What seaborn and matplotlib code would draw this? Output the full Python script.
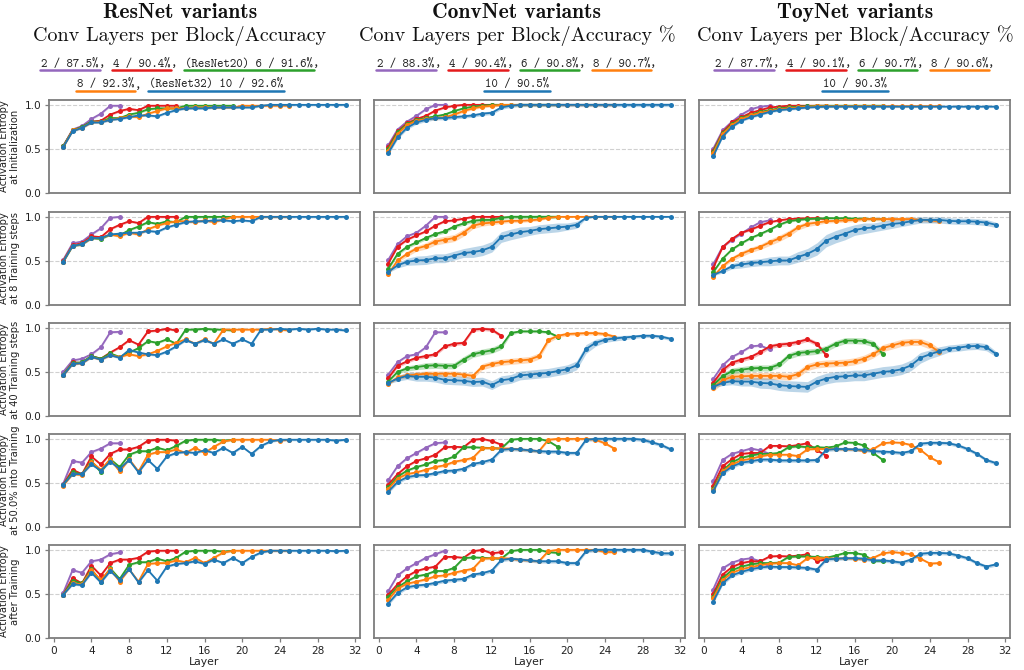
import numpy as np
import pandas as pd
import matplotlib
matplotlib.use("Agg")
import matplotlib.pyplot as plt
import seaborn as sns
from matplotlib.lines import Line2D
from matplotlib.transforms import IdentityTransform

# ---------------- data ----------------
VARIANTS = [2, 4, 6, 8, 10]
COLORS = {2: "#9467bd", 4: "#e41a1c", 6: "#2ca02c", 8: "#ff7f0e", 10: "#1f77b4"}
STAGE_LABELS = ["Activation Entropy\nat Initialization",
                "Activation Entropy\nat 8 Training steps",
                "Activation Entropy\nat 40 Training steps",
                "Activation Entropy\nat 50.0% into Training",
                "Activation Entropy\nafter Training"]
ARCH_TITLES = ["ResNet variants", "ConvNet variants", "ToyNet variants"]
ARCH_SUBTITLES = ["Conv Layers per Block/Accuracy",
                  "Conv Layers per Block/Accuracy %",
                  "Conv Layers per Block/Accuracy %"]
RES_ACC = [87.5, 90.4, 91.6, 92.3, 92.6]
RES_PREFIX = ["", "", "(ResNet20) ", "", "(ResNet32) "]
CONV_ACC = [88.3, 90.4, 90.8, 90.7, 90.5]
TOY_ACC = [87.7, 90.1, 90.7, 90.6, 90.3]
X_TICKS = [0, 4, 8, 12, 16, 20, 24, 28, 32]
Y_TICKS = [0.0, 0.5, 1.0]

res_init = {
    2: [0.53, 0.72, 0.76, 0.84, 0.90, 0.99, 0.99],
    4: [0.53, 0.71, 0.75, 0.81, 0.82, 0.89, 0.93, 0.955, 0.94, 0.99, 0.99, 0.99, 0.99],
    6: [0.53, 0.71, 0.75, 0.81, 0.81, 0.85, 0.85, 0.89, 0.91, 0.95, 0.96, 0.96, 0.96, 0.99, 0.99, 0.99, 0.99, 0.99, 0.99],
    8: [0.52, 0.71, 0.74, 0.80, 0.81, 0.83, 0.85, 0.87, 0.86, 0.90, 0.93, 0.96, 0.96, 0.96, 0.97, 0.97, 0.97, 0.97, 0.97,
        0.99, 0.99, 0.99, 0.99, 0.99, 0.99],
    10: [0.52, 0.70, 0.74, 0.80, 0.80, 0.83, 0.84, 0.86, 0.88, 0.88, 0.87, 0.91, 0.94, 0.96, 0.96, 0.96, 0.97, 0.97, 0.97,
         0.97, 0.97, 0.99, 1.0, 1.0, 1.0, 1.0, 1.0, 1.0, 1.0, 1.0, 1.0],
}
res_8 = {
    2: [0.51, 0.70, 0.72, 0.80, 0.87, 0.99, 1.0],
    4: [0.50, 0.68, 0.70, 0.78, 0.77, 0.86, 0.91, 0.95, 0.93, 1.0, 1.0, 1.0, 1.0],
    6: [0.49, 0.67, 0.69, 0.76, 0.75, 0.80, 0.79, 0.85, 0.89, 0.94, 0.92, 0.95, 0.94, 1.0, 1.0, 1.0, 1.0, 1.0, 1.0],
    8: [0.49, 0.67, 0.69, 0.76, 0.76, 0.80, 0.78, 0.82, 0.80, 0.86, 0.90, 0.93, 0.95, 0.95, 0.94, 0.96, 0.94, 0.97,
        1.0, 1.0, 1.0, 1.0, 1.0, 1.0, 1.0],
    10: [0.49, 0.67, 0.69, 0.76, 0.76, 0.80, 0.81, 0.82, 0.82, 0.84, 0.83, 0.88, 0.91, 0.94, 0.95, 0.95, 0.96, 0.96,
         0.95, 0.96, 0.95, 1.0, 1.0, 1.0, 1.0, 1.0, 1.0, 1.0, 1.0, 1.0, 1.0],
}
res_40 = {
    2: [0.50, 0.63, 0.65, 0.70, 0.78, 0.95, 0.955],
    4: [0.46, 0.61, 0.60, 0.68, 0.65, 0.72, 0.78, 0.86, 0.81, 0.96, 0.97, 0.99, 0.97],
    6: [0.47, 0.60, 0.61, 0.68, 0.65, 0.71, 0.67, 0.72, 0.77, 0.85, 0.83, 0.87, 0.82, 0.98, 0.98, 0.99, 0.98, 0.98, 0.97],
    8: [0.46, 0.59, 0.60, 0.67, 0.64, 0.69, 0.67, 0.70, 0.68, 0.70, 0.74, 0.79, 0.83, 0.87, 0.82, 0.87, 0.82, 0.98,
        0.98, 0.98, 0.98, 0.98, 0.99, 0.98, 0.97],
    10: [0.46, 0.59, 0.60, 0.67, 0.64, 0.69, 0.66, 0.75, 0.72, 0.70, 0.69, 0.73, 0.79, 0.86, 0.82, 0.86, 0.82, 0.87,
         0.82, 0.87, 0.82, 0.98, 0.98, 0.99, 0.98, 0.99, 0.98, 0.99, 0.98, 0.98, 0.97],
}
res_50 = {
    2: [0.49, 0.75, 0.73, 0.85, 0.89, 0.95, 0.95],
    4: [0.48, 0.65, 0.60, 0.80, 0.71, 0.83, 0.88, 0.88, 0.91, 0.98, 0.99, 0.99, 0.98],
    6: [0.48, 0.62, 0.60, 0.75, 0.62, 0.77, 0.68, 0.82, 0.86, 0.86, 0.90, 0.87, 0.92, 0.98, 0.99, 0.99, 0.99, 0.98, 0.99],
    8: [0.47, 0.60, 0.59, 0.74, 0.65, 0.77, 0.63, 0.77, 0.63, 0.82, 0.85, 0.85, 0.88, 0.84, 0.90, 0.84, 0.91, 0.97,
        0.99, 0.99, 0.99, 0.99, 0.99, 0.98, 0.99],
    10: [0.48, 0.60, 0.60, 0.71, 0.64, 0.74, 0.66, 0.76, 0.62, 0.76, 0.66, 0.80, 0.84, 0.85, 0.84, 0.87, 0.84, 0.90,
         0.84, 0.91, 0.83, 0.92, 0.97, 0.99, 0.99, 0.99, 0.99, 0.99, 0.99, 0.98, 0.99],
}
res_after = {
    2: [0.51, 0.77, 0.74, 0.87, 0.89, 0.95, 0.97],
    4: [0.49, 0.68, 0.62, 0.82, 0.71, 0.85, 0.89, 0.89, 0.91, 0.98, 0.99, 0.99, 0.99],
    6: [0.49, 0.65, 0.62, 0.78, 0.64, 0.79, 0.67, 0.83, 0.86, 0.86, 0.90, 0.87, 0.91, 0.98, 0.99, 0.99, 0.99, 0.98, 0.99],
    8: [0.49, 0.62, 0.61, 0.77, 0.66, 0.78, 0.64, 0.78, 0.64, 0.84, 0.85, 0.85, 0.88, 0.86, 0.91, 0.85, 0.91, 0.97,
        0.99, 0.99, 0.99, 0.99, 0.99, 0.99, 0.99],
    10: [0.49, 0.61, 0.60, 0.74, 0.63, 0.76, 0.66, 0.78, 0.63, 0.77, 0.65, 0.81, 0.84, 0.85, 0.87, 0.84, 0.89, 0.85,
         0.91, 0.85, 0.92, 0.97, 0.99, 0.99, 0.99, 0.99, 0.99, 0.99, 0.99, 0.985, 0.99],
}

conv_init = {
    2: [0.54, 0.72, 0.81, 0.875, 0.95, 1.0, 1.0],
    4: [0.52, 0.70, 0.79, 0.84, 0.875, 0.935, 0.97, 0.99, 1.0, 1.0, 1.0, 1.0, 1.0],
    6: [0.50, 0.69, 0.78, 0.83, 0.85, 0.87, 0.89, 0.93, 0.96, 0.98, 0.99, 1.0, 1.0, 1.0, 1.0, 1.0, 1.0, 1.0, 1.0],
    8: [0.48, 0.67, 0.77, 0.82, 0.84, 0.85, 0.86, 0.89, 0.93, 0.96, 0.98, 0.99, 1.0, 1.0, 1.0, 1.0, 1.0, 1.0, 1.0,
        1.0, 1.0, 1.0, 1.0, 1.0, 1.0],
    10: [0.45, 0.63, 0.74, 0.80, 0.83, 0.85, 0.85, 0.86, 0.87, 0.88, 0.90, 0.91, 0.97, 0.99, 1.0, 1.0, 1.0, 1.0, 1.0,
         1.0, 1.0, 1.0, 1.0, 1.0, 1.0, 1.0, 1.0, 1.0, 1.0, 1.0, 1.0],
}
conv_8 = {
    2: [0.51, 0.69, 0.78, 0.82, 0.90, 1.0, 1.0],
    4: [0.47, 0.66, 0.74, 0.79, 0.835, 0.90, 0.95, 0.96, 0.98, 1.0, 1.0, 1.0, 1.0],
    6: [0.41, 0.58, 0.66, 0.71, 0.76, 0.805, 0.835, 0.89, 0.925, 0.955, 0.965, 0.965, 0.99, 1.0, 1.0, 1.0, 1.0, 1.0, 1.0],
    8: [0.35, 0.505, 0.58, 0.64, 0.67, 0.72, 0.74, 0.76, 0.82, 0.90, 0.925, 0.935, 0.945, 0.955, 0.955, 0.96, 0.97,
        0.99, 1.0, 1.0, 1.0, 1.0, 1.0, 1.0, 1.0],
    10: [0.375, 0.45, 0.49, 0.505, 0.51, 0.53, 0.53, 0.56, 0.59, 0.60, 0.62, 0.66, 0.77, 0.80, 0.825, 0.84, 0.86,
         0.87, 0.88, 0.89, 0.91, 0.99, 1.0, 1.0, 1.0, 1.0, 1.0, 1.0, 1.0, 1.0, 1.0],
}
conv_40 = {
    2: [0.47, 0.61, 0.68, 0.70, 0.78, 0.95, 0.95],
    4: [0.43, 0.57, 0.62, 0.66, 0.68, 0.70, 0.79, 0.82, 0.83, 0.98, 0.99, 0.98, 0.91],
    6: [0.39, 0.50, 0.54, 0.555, 0.57, 0.575, 0.57, 0.57, 0.64, 0.70, 0.725, 0.745, 0.79, 0.94, 0.96, 0.96, 0.96,
        0.95, 0.90],
    8: [0.36, 0.44, 0.46, 0.47, 0.48, 0.48, 0.48, 0.48, 0.47, 0.455, 0.56, 0.59, 0.61, 0.62, 0.63, 0.64, 0.68, 0.86,
        0.91, 0.93, 0.935, 0.94, 0.94, 0.93, 0.90],
    10: [0.375, 0.425, 0.455, 0.445, 0.445, 0.435, 0.41, 0.405, 0.40, 0.385, 0.39, 0.35, 0.405, 0.42, 0.46, 0.47,
         0.48, 0.49, 0.51, 0.53, 0.575, 0.76, 0.83, 0.865, 0.88, 0.89, 0.90, 0.91, 0.91, 0.90, 0.875],
}
conv_50 = {
    2: [0.53, 0.69, 0.78, 0.84, 0.90, 0.95, 0.96],
    4: [0.48, 0.60, 0.69, 0.75, 0.78, 0.82, 0.905, 0.91, 0.905, 0.99, 1.0, 0.975, 0.935],
    6: [0.45, 0.57, 0.64, 0.68, 0.71, 0.75, 0.76, 0.80, 0.905, 0.905, 0.90, 0.895, 0.89, 0.99, 1.0, 1.0, 1.0, 0.975,
        0.91],
    8: [0.43, 0.55, 0.60, 0.62, 0.65, 0.68, 0.70, 0.74, 0.76, 0.785, 0.895, 0.895, 0.89, 0.89, 0.88, 0.87, 0.86, 0.99,
        1.0, 1.0, 1.0, 1.0, 0.99, 0.95, 0.89],
    10: [0.40, 0.51, 0.565, 0.585, 0.59, 0.61, 0.635, 0.64, 0.66, 0.715, 0.735, 0.765, 0.875, 0.885, 0.88, 0.87, 0.86,
         0.855, 0.855, 0.84, 0.84, 0.99, 1.0, 1.0, 1.0, 1.0, 1.0, 0.99, 0.96, 0.93, 0.88],
}
conv_after = {
    2: [0.53, 0.71, 0.79, 0.85, 0.91, 0.95, 0.99],
    4: [0.49, 0.61, 0.70, 0.76, 0.79, 0.81, 0.92, 0.92, 0.91, 0.985, 1.0, 0.96, 0.975],
    6: [0.47, 0.575, 0.645, 0.70, 0.72, 0.76, 0.76, 0.795, 0.905, 0.915, 0.91, 0.905, 0.90, 0.985, 1.0, 1.0, 1.0,
        0.975, 0.965],
    8: [0.43, 0.56, 0.615, 0.64, 0.665, 0.70, 0.71, 0.74, 0.765, 0.785, 0.90, 0.905, 0.905, 0.90, 0.885, 0.88, 0.87,
        0.985, 1.0, 1.0, 1.0, 1.0, 1.0, 0.975, 0.975],
    10: [0.39, 0.51, 0.575, 0.595, 0.605, 0.625, 0.65, 0.66, 0.67, 0.72, 0.735, 0.765, 0.885, 0.90, 0.89, 0.88, 0.87,
         0.87, 0.87, 0.85, 0.85, 0.985, 1.0, 1.0, 1.0, 1.0, 1.0, 1.0, 0.98, 0.96, 0.96],
}

toy_init = {
    2: [0.50, 0.71, 0.81, 0.89, 0.95, 0.98, 0.99],
    4: [0.48, 0.69, 0.80, 0.86, 0.91, 0.94, 0.97, 0.98, 0.99, 0.99, 0.99, 0.99, 0.99],
    6: [0.47, 0.68, 0.78, 0.85, 0.89, 0.92, 0.94, 0.96, 0.97, 0.98, 0.985, 0.99, 0.99, 0.99, 0.99, 0.99, 0.99, 0.99,
        0.99],
    8: [0.45, 0.67, 0.77, 0.84, 0.88, 0.91, 0.93, 0.95, 0.96, 0.97, 0.98, 0.985, 0.985, 0.985, 0.985, 0.985, 0.985,
        0.985, 0.985, 0.985, 0.985, 0.985, 0.985, 0.985, 0.985],
    10: [0.415, 0.64, 0.75, 0.82, 0.86, 0.89, 0.92, 0.94, 0.95, 0.96, 0.97, 0.975, 0.98, 0.98, 0.98, 0.98, 0.98, 0.98,
         0.98, 0.98, 0.98, 0.98, 0.98, 0.98, 0.98, 0.98, 0.98, 0.98, 0.98, 0.98, 0.98],
}
toy_8 = {
    2: [0.46, 0.66, 0.74, 0.81, 0.88, 0.94, 0.96],
    4: [0.42, 0.655, 0.75, 0.82, 0.855, 0.90, 0.94, 0.96, 0.975, 0.98, 0.985, 0.985, 0.975],
    6: [0.37, 0.525, 0.63, 0.70, 0.76, 0.805, 0.855, 0.91, 0.95, 0.965, 0.975, 0.98, 0.985, 0.985, 0.985, 0.98, 0.98,
        0.975, 0.975],
    8: [0.32, 0.44, 0.525, 0.58, 0.625, 0.66, 0.71, 0.755, 0.81, 0.88, 0.92, 0.935, 0.95, 0.955, 0.96, 0.965, 0.975,
        0.975, 0.975, 0.975, 0.975, 0.975, 0.965, 0.96, 0.95],
    10: [0.34, 0.385, 0.44, 0.46, 0.475, 0.485, 0.495, 0.505, 0.505, 0.545, 0.58, 0.635, 0.73, 0.775, 0.81, 0.85, 0.87,
         0.88, 0.90, 0.92, 0.93, 0.95, 0.965, 0.965, 0.965, 0.955, 0.95, 0.95, 0.945, 0.935, 0.91],
}
toy_40 = {
    2: [0.42, 0.575, 0.67, 0.725, 0.79, 0.80, 0.755],
    4: [0.375, 0.52, 0.605, 0.64, 0.67, 0.725, 0.79, 0.81, 0.82, 0.84, 0.87, 0.82, 0.69],
    6: [0.35, 0.45, 0.51, 0.525, 0.54, 0.545, 0.545, 0.585, 0.68, 0.715, 0.725, 0.735, 0.765, 0.82, 0.855, 0.855, 0.85,
        0.82, 0.705],
    8: [0.32, 0.405, 0.445, 0.45, 0.455, 0.455, 0.455, 0.455, 0.445, 0.475, 0.555, 0.585, 0.595, 0.60, 0.605, 0.62,
        0.65, 0.70, 0.77, 0.80, 0.83, 0.84, 0.84, 0.80, 0.725],
    10: [0.33, 0.375, 0.395, 0.39, 0.39, 0.375, 0.37, 0.35, 0.34, 0.335, 0.33, 0.39, 0.425, 0.445, 0.45, 0.46, 0.46,
         0.48, 0.50, 0.51, 0.53, 0.575, 0.66, 0.70, 0.735, 0.765, 0.775, 0.79, 0.795, 0.78, 0.705],
}
toy_50 = {
    2: [0.52, 0.76, 0.83, 0.86, 0.89, 0.87, 0.83],
    4: [0.47, 0.69, 0.77, 0.83, 0.84, 0.84, 0.92, 0.92, 0.915, 0.93, 0.95, 0.87, 0.81],
    6: [0.435, 0.64, 0.735, 0.785, 0.81, 0.83, 0.83, 0.84, 0.905, 0.915, 0.905, 0.905, 0.90, 0.915, 0.96, 0.955, 0.925,
        0.84, 0.76],
    8: [0.415, 0.63, 0.71, 0.755, 0.775, 0.80, 0.82, 0.82, 0.82, 0.805, 0.88, 0.885, 0.885, 0.885, 0.88, 0.88, 0.86,
        0.885, 0.95, 0.96, 0.955, 0.93, 0.875, 0.79, 0.735],
    10: [0.405, 0.61, 0.685, 0.73, 0.745, 0.765, 0.765, 0.755, 0.755, 0.755, 0.755, 0.76, 0.875, 0.885, 0.885, 0.88,
         0.875, 0.86, 0.855, 0.85, 0.84, 0.86, 0.945, 0.955, 0.955, 0.95, 0.925, 0.885, 0.83, 0.76, 0.725],
}
toy_after = {
    2: [0.55, 0.79, 0.855, 0.89, 0.905, 0.87, 0.81],
    4: [0.50, 0.72, 0.805, 0.85, 0.87, 0.87, 0.925, 0.93, 0.925, 0.935, 0.95, 0.875, 0.89],
    6: [0.47, 0.68, 0.77, 0.81, 0.835, 0.85, 0.85, 0.855, 0.92, 0.925, 0.925, 0.92, 0.91, 0.935, 0.965, 0.965, 0.945,
        0.875, 0.875],
    8: [0.45, 0.655, 0.74, 0.78, 0.805, 0.825, 0.845, 0.85, 0.85, 0.825, 0.905, 0.91, 0.905, 0.90, 0.905, 0.90, 0.89,
        0.91, 0.96, 0.975, 0.965, 0.95, 0.90, 0.845, 0.85],
    10: [0.41, 0.62, 0.71, 0.75, 0.78, 0.80, 0.81, 0.805, 0.805, 0.80, 0.795, 0.775, 0.89, 0.90, 0.905, 0.905, 0.90,
         0.88, 0.88, 0.87, 0.855, 0.89, 0.955, 0.965, 0.965, 0.96, 0.935, 0.905, 0.85, 0.81, 0.835],
}

# half-widths of the shaded bands (scalar = same across layers)
DEFAULT_BAND = 0.012
conv_init_band = {10: 0.02, 8: 0.015}
conv_8_band = {
    10: [0.01, 0.03, 0.04, 0.05, 0.05, 0.05, 0.05, 0.05, 0.05, 0.06, 0.06, 0.06, 0.06, 0.06, 0.06, 0.05, 0.05, 0.05,
         0.05, 0.04, 0.04, 0.01, 0.005, 0.005, 0.005, 0.005, 0.005, 0.005, 0.005, 0.005, 0.005],
    8: [0.01, 0.02, 0.03, 0.03, 0.035, 0.04, 0.04, 0.04, 0.04, 0.035, 0.03, 0.025, 0.02, 0.02, 0.02, 0.015, 0.015,
        0.01, 0.005, 0.005, 0.005, 0.005, 0.005, 0.005, 0.005],
    6: 0.02,
}
conv_40_band = {
    10: [0.01, 0.03, 0.04, 0.05, 0.05, 0.05, 0.05, 0.05, 0.05, 0.05, 0.05, 0.05, 0.05, 0.05, 0.05, 0.05, 0.05, 0.05,
         0.05, 0.05, 0.05, 0.05, 0.04, 0.03, 0.03, 0.025, 0.02, 0.02, 0.02, 0.02, 0.02],
    8: [0.01, 0.02, 0.03, 0.03, 0.03, 0.03, 0.03, 0.03, 0.03, 0.03, 0.035, 0.035, 0.035, 0.035, 0.035, 0.035, 0.035,
        0.03, 0.02, 0.02, 0.02, 0.02, 0.02, 0.02, 0.02],
    6: [0.01, 0.02, 0.03, 0.03, 0.035, 0.035, 0.035, 0.035, 0.035, 0.035, 0.035, 0.035, 0.035, 0.02, 0.015, 0.015,
        0.015, 0.015, 0.015],
    4: 0.02,
}
conv_50_band = {10: 0.02, 8: 0.015}
conv_after_band = {10: 0.02, 8: 0.015}
toy_8_band = {
    10: [0.01, 0.02, 0.03, 0.04, 0.04, 0.04, 0.05, 0.05, 0.05, 0.06, 0.06, 0.07, 0.07, 0.07, 0.07, 0.06, 0.06, 0.05,
         0.05, 0.05, 0.04, 0.04, 0.035, 0.035, 0.035, 0.035, 0.035, 0.035, 0.035, 0.035, 0.03],
    8: [0.01, 0.02, 0.025, 0.03, 0.03, 0.03, 0.035, 0.035, 0.035, 0.03, 0.03, 0.025, 0.02, 0.02, 0.02, 0.02, 0.02,
        0.02, 0.02, 0.02, 0.02, 0.02, 0.02, 0.02, 0.02],
}
toy_40_band = {
    10: [0.01, 0.03, 0.04, 0.05, 0.05, 0.06, 0.06, 0.06, 0.06, 0.06, 0.06, 0.06, 0.06, 0.06, 0.06, 0.06, 0.06, 0.06,
         0.06, 0.06, 0.06, 0.06, 0.06, 0.05, 0.05, 0.04, 0.04, 0.04, 0.04, 0.04, 0.03],
    8: 0.04, 6: 0.035, 4: 0.025,
}
toy_50_band = {10: 0.02}
toy_after_band = {10: 0.02}

PANELS = [
    [(res_init, {}), (res_8, {}), (res_40, {}), (res_50, {}), (res_after, {})],
    [(conv_init, conv_init_band), (conv_8, conv_8_band), (conv_40, conv_40_band),
     (conv_50, conv_50_band), (conv_after, conv_after_band)],
    [(toy_init, {}), (toy_8, toy_8_band), (toy_40, toy_40_band),
     (toy_50, toy_50_band), (toy_after, toy_after_band)],
]

# ---------------- style / layout ----------------
sns.set_theme(style="white")
plt.rcParams["font.family"] = ["DejaVu Sans"]

W, H = 1024, 670
fig = plt.figure(figsize=(W / 100, H / 100), dpi=100)

COL_LEFT = [49, 374, 699]
COL_W = 311
ROW_TOP = [100, 212, 323, 434, 545]
ROW_H = 93
SPINE = "#7d7d7d"

for ci in range(3):
    for ri in range(5):
        rect = [COL_LEFT[ci] / W, 1 - (ROW_TOP[ri] + ROW_H) / H, COL_W / W, ROW_H / H]
        ax = fig.add_axes(rect)
        means, bands = PANELS[ci][ri]
        for v in VARIANTS:
            y = np.asarray(means[v], dtype=float)
            x = np.arange(1, len(y) + 1)
            b = bands.get(v, DEFAULT_BAND)
            b = np.asarray(b, dtype=float) * np.ones_like(y)
            ax.fill_between(x, y - b, y + b, color=COLORS[v], alpha=0.3, linewidth=0)
            df = pd.DataFrame({"Layer": x, "Entropy": y})
            sns.lineplot(data=df, x="Layer", y="Entropy", ax=ax, color=COLORS[v],
                         marker="o", markersize=3.6, markeredgewidth=0, linewidth=1.3)
        ax.set_xlim(-0.5, 32.5)
        ax.set_ylim(0, 1.055)
        ax.set_yticks(Y_TICKS)
        ax.set_xticks(X_TICKS)
        ax.yaxis.grid(True, linestyle="--", color="#d0d0d0", linewidth=0.8)
        ax.xaxis.grid(False)
        for s in ax.spines.values():
            s.set_visible(True)
            s.set_color(SPINE)
            s.set_linewidth(1.3)
        ax.tick_params(colors="#222222", labelsize=7.6, pad=2.5)
        if ci == 0:
            ax.set_ylabel(STAGE_LABELS[ri], fontsize=7.2, color="#222222", labelpad=3,
                          linespacing=1.15)
            ax.tick_params(axis="y", left=True, length=3, width=0.9, color=SPINE)
        else:
            ax.set_ylabel("")
            ax.tick_params(axis="y", left=False, labelleft=False)
        if ri == 4:
            ax.set_xlabel("Layer", fontsize=7.8, color="#222222", labelpad=1)
            ax.tick_params(axis="x", bottom=True, length=3, width=0.9, color=SPINE)
        else:
            ax.set_xlabel("")
            ax.tick_params(axis="x", bottom=False, labelbottom=False)

# ---------------- titles and legends ----------------
TITLE_CX = [180, 517, 855]
for ci in range(3):
    fig.text(TITLE_CX[ci] / W, 1 - 12 / H, ARCH_TITLES[ci], fontsize=15.5,
             family=["cmb10", "DejaVu Serif"], ha="center", va="center", color="#111111")
    fig.text(TITLE_CX[ci] / W, 1 - 36 / H, ARCH_SUBTITLES[ci], fontsize=14.5,
             family=["cmr10", "DejaVu Serif"], ha="center", va="center", color="#111111")


def entry_labels(acc, prefix=None):
    out = []
    for i, v in enumerate(VARIANTS):
        p = prefix[i] if prefix else ""
        out.append(f"{p}{v} / {acc[i]:.1f}%")
    return out


res_lab = entry_labels(RES_ACC, RES_PREFIX)
conv_lab = entry_labels(CONV_ACC)
toy_lab = entry_labels(TOY_ACC)
LEGEND_ROWS = [
    [[0, 1, 2], [3, 4]],
    [[0, 1, 2, 3], [4]],
    [[0, 1, 2, 3], [4]],
]
LEGEND_LABELS = [res_lab, conv_lab, toy_lab]

renderer = fig.canvas.get_renderer()
LFS = 8.8
LFAM = ["cmtt10", "DejaVu Sans Mono"]
BASELINES = [66.5, 87.5]
GAP = 8
ident = IdentityTransform()

for ci in range(3):
    labs = LEGEND_LABELS[ci]
    for r, idxs in enumerate(LEGEND_ROWS[ci]):
        ypx = H - BASELINES[r]
        pieces = []
        for k, idx in enumerate(idxs):
            last = (r == len(LEGEND_ROWS[ci]) - 1) and (k == len(idxs) - 1)
            t = fig.text(0, 0, labs[idx], fontsize=LFS, family=LFAM, transform=ident,
                         ha="left", va="baseline", color="#222222")
            w = t.get_window_extent(renderer).width
            c, cw = None, 0.0
            if not last:
                c = fig.text(0, 0, ",", fontsize=LFS, family=LFAM, transform=ident,
                             ha="left", va="baseline", color="#222222")
                cw = c.get_window_extent(renderer).width
            pieces.append((t, c, w, cw, COLORS[VARIANTS[idx]]))
        total = sum(p[2] + p[3] for p in pieces) + GAP * (len(pieces) - 1)
        x = TITLE_CX[ci] - total / 2
        for t, c, w, cw, col in pieces:
            t.set_position((x, ypx))
            fig.add_artist(Line2D([x - 1, x + w + 1], [ypx - 3, ypx - 3], color=col,
                                  linewidth=1.8, transform=ident))
            if c is not None:
                c.set_position((x + w, ypx))
            x += w + cw + GAP

fig.savefig("out.png", dpi=100)
